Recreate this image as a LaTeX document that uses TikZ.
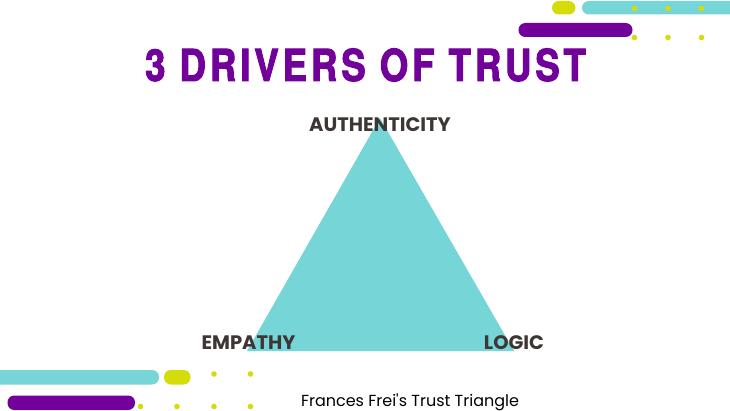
\documentclass[tikz,border=0pt]{standalone}
\usepackage{fontspec}
\setmainfont[Ligatures=TeXOff]{Poppins}
\newfontfamily\titlefont[FakeStretch=0.83,LetterSpace=9,FakeBold=2.2]{TeX Gyre Heros Bold}
\definecolor{teal1}{HTML}{76D5D6}
\definecolor{lime1}{HTML}{D4DC0A}
\definecolor{purple1}{HTML}{72009A}
\definecolor{ink1}{HTML}{3E3535}
\tikzset{
  pill/.style={rounded corners=6.8pt},
  dot/.style={circle,fill=lime1,draw=none,minimum size=5.6pt,inner sep=0pt},
  lab/.style={font=\fontsize{19.5}{19.5}\selectfont\bfseries,text=ink1,anchor=base,inner sep=0pt},
}
\begin{document}
\begin{tikzpicture}[x=1pt,y=-1pt]
\useasboundingbox (0,0) rectangle (730,411);
\fill[white] (0,0) rectangle (730,411);
% top bars
\fill[lime1,pill] (552,1) rectangle (575.5,14.5);
\fill[teal1,pill] (582,1) -- (582,14.5) -- (740,14.5) -- (740,1) -- cycle;
\fill[purple1,pill] (518.5,23) rectangle (632.5,37);
\foreach \i/\x/\y in {a/634.5/8.5,b/668/8.5,c/701.5/8.5,d/634.5/37.5,e/668/37.5,f/701.5/37.5}
  \node[dot] (t\i) at (\x,\y) {};
% bottom bars
\begin{scope}
\clip (0,0) rectangle (730,411);
\fill[teal1,pill] (-20,370) rectangle (159,384.5);
\end{scope}
\fill[lime1,pill] (164,370) rectangle (190.5,384.5);
\fill[purple1,pill] (7.5,395.5) rectangle (135,410);
\foreach \i/\x/\y in {a/214/374,b/250.5/374,c/140.5/406.5,d/177/406.5,e/214/406.5,f/250.5/406.5}
  \node[dot] (b\i) at (\x,\y) {};
% triangle
\fill[teal1] (380,118) -- (514,351) -- (247,351) -- cycle;
% texts
\node[anchor=base,inner sep=0pt,text=purple1,font=\titlefont\fontsize{44}{44}\selectfont] (title) at (365.5,81) {3 DRIVERS OF TRUST};
\node[lab] (auth) at (380,131.5) {AUTHENTICITY};
\node[lab] (emp) at (248.5,349.5) {EMPATHY};
\node[lab] (log) at (514,349.5) {LOGIC};
\node[anchor=base,inner sep=0pt,text=black,font=\fontsize{16}{16}\selectfont] (cap) at (410,406.5) {Frances Frei's Trust Triangle};
\end{tikzpicture}
\end{document}
